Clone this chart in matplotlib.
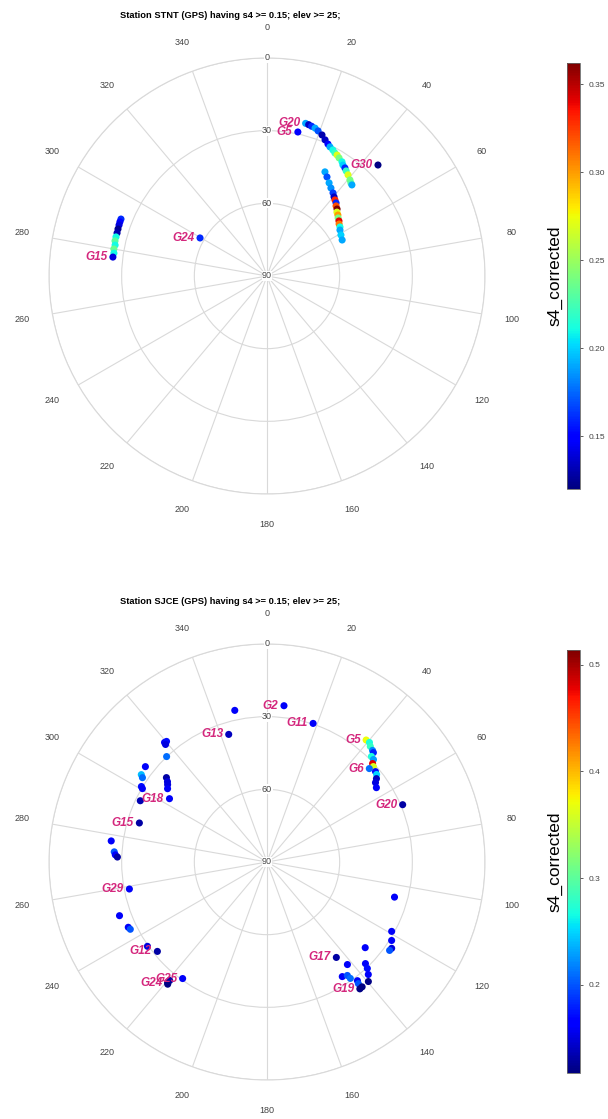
import numpy as np
import matplotlib
matplotlib.use("Agg")
import matplotlib.pyplot as plt
from matplotlib.colors import Normalize

plt.rcParams['font.family'] = ['Liberation Sans', 'DejaVu Sans']

#region Data - station STNT
stnt_az = [14.2, 15.4, 16.6, 18.0, 19.4, 21.3, 23.1, 24.8, 26.0, 27.6, 28.9, 30.1, 31.4, 33.3,
           34.4, 35.8, 37.0, 38.7, 40.8, 42.1, 43.0,
           12.1, 45.0,
           29.1, 31.2, 33.7, 36.0, 38.5, 40.3, 41.8, 43.4, 44.6, 46.3, 47.6, 49.3, 50.8, 52.6,
           54.2, 56.1, 57.8, 61.0, 64.4,
           291.3, 290.2, 289.0, 287.5, 286.0, 284.5, 283.0, 281.5, 280.0, 278.5, 277.0,
           299.6]
stnt_el = [25.0, 25.2, 25.5, 25.8, 26.5, 27.5, 28.9, 30.0, 30.7, 31.3, 32.0, 32.3, 32.9, 33.6,
           34.5, 35.0, 35.7, 36.5, 37.6, 38.3, 38.6,
           29.2, 25.2,
           40.8, 42.2, 43.8, 45.1, 46.2, 47.2, 47.9, 48.5, 49.4, 50.0, 50.9, 51.4, 52.1, 52.6,
           53.3, 53.7, 54.4, 55.1, 55.6,
           25.3, 25.3, 25.4, 25.5, 25.6, 25.6, 25.6, 26.0, 25.8, 26.1, 25.9,
           58.2]
stnt_s4 = [0.190, 0.135, 0.160, 0.190, 0.170, 0.130, 0.135, 0.150, 0.190, 0.210, 0.220, 0.270,
           0.240, 0.210, 0.200, 0.160, 0.220, 0.270, 0.240, 0.230, 0.190,
           0.150, 0.121,
           0.190, 0.170, 0.190, 0.185, 0.165, 0.135, 0.330, 0.160, 0.320, 0.362, 0.270, 0.300,
           0.240, 0.340, 0.310, 0.210, 0.190, 0.200, 0.190,
           0.160, 0.150, 0.140, 0.125, 0.130, 0.210, 0.230, 0.210, 0.235, 0.210, 0.140,
           0.160]
stnt_labels = ['G20', 'G5', 'G30', 'G15', 'G24']
stnt_label_az = [14.2, 12.1, 45.0, 277.0, 299.6]
stnt_label_el = [25.0, 29.2, 25.2, 25.9, 58.2]
stnt_range = (0.120, 0.362)
stnt_ticks = [0.15, 0.20, 0.25, 0.30, 0.35]
stnt_tick_labels = ['0.15', '0.20', '0.25', '0.30', '0.35']
#endregion

#region Data - station SJCE
sjce_az = [6.2, 348.0, 343.3, 18.4,
           319.4, 320.2, 319.2, 316.4, 308.1, 304.8, 304.1, 301.0, 300.5, 295.8, 310.0, 308.9,
           307.9, 306.4, 303.0,
           287.0, 277.7, 273.8, 272.7, 271.9, 258.9, 250.0, 244.8, 243.8, 234.8, 230.8,
           215.9, 219.5, 219.4, 219.1,
           39.1, 40.6, 41.8, 43.4, 44.2, 44.7, 46.1, 47.0, 48.1, 47.6, 50.2, 51.4, 52.7, 53.8, 55.8,
           67.1,
           105.4, 119.1, 122.2, 124.7, 125.8, 131.1, 144.0, 141.9, 135.9, 136.7, 138.0, 139.7,
           146.7, 144.7, 144.4, 142.7, 143.1, 143.8, 142.7]
sjce_el = [25.1, 26.0, 35.0, 29.7,
           25.0, 25.2, 25.9, 29.9, 26.2, 26.8, 27.9, 29.5, 30.3, 31.9, 35.8, 37.2,
           38.0, 39.0, 42.0,
           34.9, 25.1, 26.8, 27.3, 28.2, 32.1, 25.2, 26.7, 27.1, 29.6, 31.6,
           30.6, 25.5, 26.7, 25.0,
           25.1, 25.0, 26.0, 26.6, 27.0, 28.7, 29.0, 30.4, 31.0, 32.8, 31.7, 32.1, 33.2, 34.5, 35.4,
           29.2,
           35.4, 31.1, 29.2, 27.4, 27.6, 36.2, 41.3, 36.2, 31.6, 29.6, 27.5, 25.3,
           33.4, 32.6, 30.9, 28.4, 27.2, 25.1, 25.2]
sjce_s4 = [0.160, 0.160, 0.140, 0.160,
           0.160, 0.170, 0.150, 0.210, 0.160, 0.240, 0.210, 0.170, 0.160, 0.135, 0.130, 0.150,
           0.150, 0.160, 0.160,
           0.130, 0.160, 0.200, 0.160, 0.130, 0.160, 0.160, 0.160, 0.200, 0.150, 0.130,
           0.160, 0.120, 0.130, 0.120,
           0.370, 0.270, 0.280, 0.220, 0.180, 0.270, 0.230, 0.480, 0.360, 0.210, 0.170, 0.250,
           0.140, 0.150, 0.160,
           0.130,
           0.160, 0.160, 0.160, 0.150, 0.200, 0.160, 0.130, 0.160, 0.160, 0.170, 0.160, 0.120,
           0.160, 0.200, 0.210, 0.160, 0.200, 0.120, 0.120]
sjce_labels = ['G2', 'G13', 'G11', 'G18', 'G15', 'G29', 'G12', 'G25', 'G24',
               'G5', 'G6', 'G20', 'G17', 'G19']
sjce_label_az = [6.2, 343.3, 18.4, 303.0, 287.0, 258.9, 230.8, 215.9, 219.5,
                 39.1, 47.6, 67.1, 144.0, 143.8]
sjce_label_el = [25.1, 35.0, 29.7, 42.0, 34.9, 32.1, 31.6, 30.6, 25.5,
                 25.1, 32.8, 29.2, 41.3, 25.1]
sjce_range = (0.117, 0.514)
sjce_ticks = [0.2, 0.3, 0.4, 0.5]
sjce_tick_labels = ['0.2', '0.3', '0.4', '0.5']
#endregion

GRID = '#d9d9d9'
LABEL_PINK = '#d4277d'
TEXT = '#444444'


def skyplot(fig, rect, cbar_rect, title_y, station, az, el, s4, labels, lab_az, lab_el,
            s4_range, ticks, tick_labels):
    """Draws one azimuth/elevation sky plot with its colorbar."""
    ax = fig.add_axes(rect, projection='polar')
    ax.set_theta_zero_location('N')
    ax.set_theta_direction(-1)
    ax.set_ylim(0, 90)

    # grid: spokes every 20 deg, circles at elev 60/30/0
    ax.set_thetagrids(np.arange(0, 360, 20), labels=[])
    ax.set_rticks([30, 60, 90])
    ax.set_yticklabels([])
    ax.grid(True, color=GRID, linewidth=0.8)
    ax.spines['polar'].set_color(GRID)
    ax.spines['polar'].set_linewidth(0.8)
    ax.tick_params(length=0)

    for a in range(0, 360, 20):
        ax.text(np.deg2rad(a), 102.5, str(a), ha='center', va='center',
                fontsize=6.5, color=TEXT, clip_on=False)
    for e in [0, 30, 60, 90]:
        ax.text(0, 90 - e, str(e), ha='center', va='center', fontsize=6.5, color=TEXT,
                bbox=dict(fc='white', ec='none', pad=0.3), zorder=3)

    norm = Normalize(vmin=s4_range[0], vmax=s4_range[1])
    r = 90 - np.asarray(el)
    sc = ax.scatter(np.deg2rad(az), r, c=s4, cmap='jet', norm=norm, s=26,
                    linewidths=0, zorder=4)

    for name, a, e in zip(labels, lab_az, lab_el):
        ax.annotate(name, xy=(np.deg2rad(a), 90 - e), xytext=(-4, 0),
                    textcoords='offset points', ha='right', va='center',
                    fontsize=8.5, fontweight='bold', fontstyle='italic',
                    color=LABEL_PINK, zorder=5)

    fig.text(230 / 608, title_y, f'Station {station} (GPS) having s4 >= 0.15; elev >= 25;',
             ha='center', va='center', fontsize=6.7, fontweight='bold')

    cax = fig.add_axes(cbar_rect)
    cb = fig.colorbar(sc, cax=cax)
    cb.set_ticks(ticks)
    cb.set_ticklabels(tick_labels)
    cb.outline.set_edgecolor('#666666')
    cb.outline.set_linewidth(0.6)
    cax.yaxis.set_label_position('left')
    cb.set_label('s4_corrected', fontsize=12.5, labelpad=3)
    cax.tick_params(labelsize=6, colors=TEXT, length=2.5, width=0.6)
    return ax


fig = plt.figure(figsize=(6.08, 11.19), dpi=100)

skyplot(fig, [49 / 608, 1 - 494 / 1119, 436 / 608, 436 / 1119],
        [567 / 608, 1 - 489 / 1119, 13 / 608, 426 / 1119], 1 - 15 / 1119,
        'STNT', stnt_az, stnt_el, stnt_s4, stnt_labels, stnt_label_az, stnt_label_el,
        stnt_range, stnt_ticks, stnt_tick_labels)

skyplot(fig, [49 / 608, 1 - 1080 / 1119, 436 / 608, 436 / 1119],
        [567 / 608, 1 - 1073 / 1119, 13 / 608, 423 / 1119], 1 - 602 / 1119,
        'SJCE', sjce_az, sjce_el, sjce_s4, sjce_labels, sjce_label_az, sjce_label_el,
        sjce_range, sjce_ticks, sjce_tick_labels)

fig.savefig('out.png', dpi=100)
